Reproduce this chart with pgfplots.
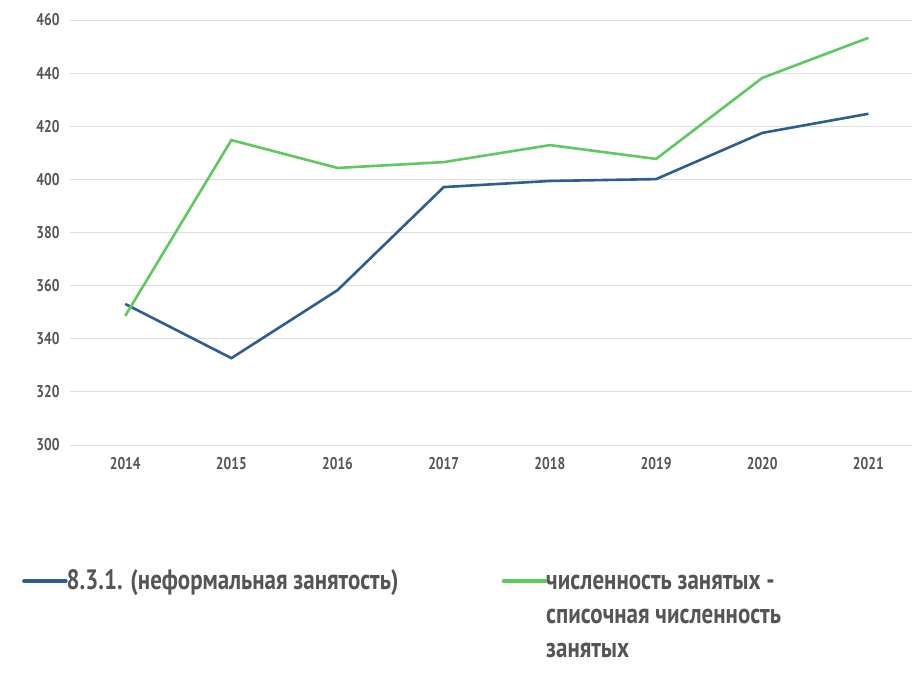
\documentclass[border=0pt]{standalone}
\usepackage{fontspec}
\setmainfont[FakeStretch=0.8]{PT Sans}
\newfontfamily\legfont[FakeStretch=0.82]{PT Sans}
\usepackage{pgfplots}
\pgfplotsset{compat=1.18}
\definecolor{infblue}{RGB}{46,94,143}
\definecolor{empgreen}{RGB}{94,201,94}
\definecolor{txtgray}{RGB}{85,85,85}
\definecolor{gridgray}{RGB}{222,222,222}

\begin{document}
\begin{tikzpicture}
  \begin{axis}[name=ax,
      scale only axis, width=842pt, height=425pt,
      xmin=2013.48, xmax=2021.41,
      ymin=300, ymax=460,
      xtick={2014,...,2021},
      ytick={300,320,...,460},
      axis line style={draw=none},
      ymajorgrids, grid style={gridgray, line width=0.9pt},
      major tick length=0pt,
      /pgf/number format/assume math mode=true,
      /pgf/number format/1000 sep={},
      tick label style={font=\bfseries\fontsize{17}{20}\selectfont, text=txtgray},
      yticklabel style={xshift=-7pt},
      xticklabel style={yshift=-9pt},
      legend columns=2,
      legend style={draw=none, fill=none, at={(-0.057,-0.287)}, anchor=north west,
        font=\legfont\bfseries\fontsize{28}{34}\selectfont, text=txtgray,
        cells={anchor=base west}, inner sep=0pt},
      legend image code/.code={\draw[#1, line width=3.5pt, line cap=round] (0pt,8pt) -- (42pt,8pt);},
    ]
\addplot[infblue, line width=2.6pt] coordinates {
  (2014,353.1) (2015,332.7) (2016,358.3) (2017,397.1)
  (2018,399.4) (2019,400.1) (2020,417.5) (2021,424.7)};
\addlegendentry{\hspace{-3pt}\makebox[433pt][l]{8.3.1. (неформальная занятость)}}
\addplot[empgreen, line width=2.6pt] coordinates {
  (2014,348.6) (2015,414.8) (2016,404.3) (2017,406.5)
  (2018,412.9) (2019,407.7) (2020,438.2) (2021,453.3)};
\addlegendentry{\hspace{-3pt}\parbox[t]{330pt}{численность занятых -\\списочная численность\\занятых}}
  \end{axis}
  \path (ax.south west) ++(-70pt,-227pt) (ax.north east) ++(1pt,20pt);
\end{tikzpicture}
\end{document}
